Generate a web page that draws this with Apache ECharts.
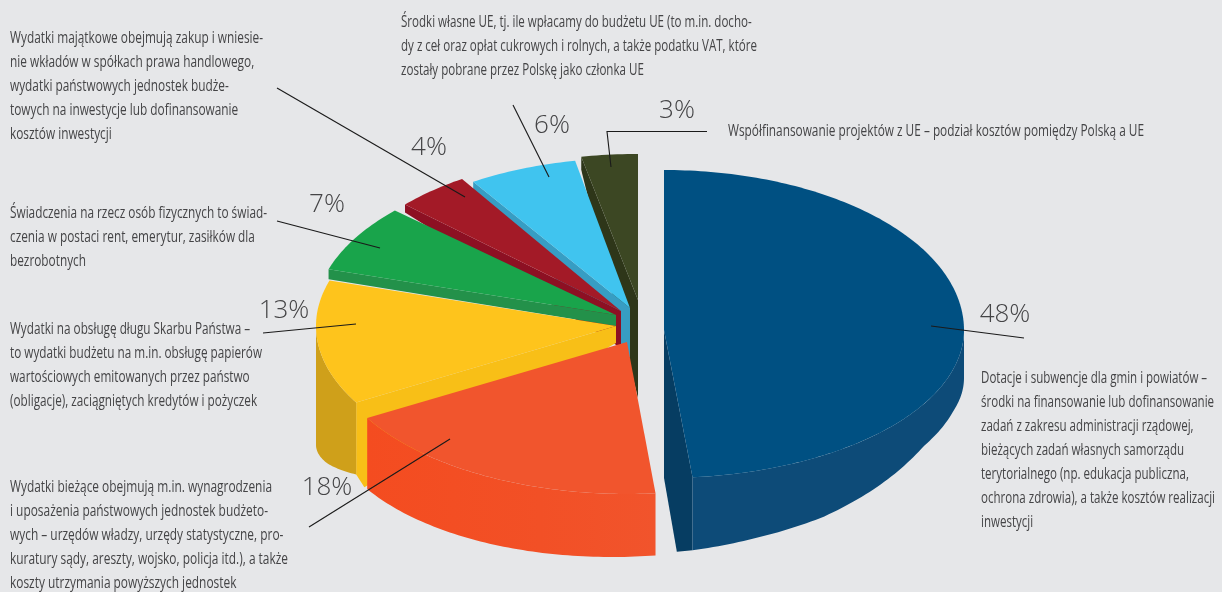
<!DOCTYPE html>
<html><head><meta charset="utf-8">
<style>html,body{margin:0;padding:0;background:#e6e7e9}#c{width:1222px;height:592px}</style>
<script src="https://cdn.jsdelivr.net/npm/echarts@6/dist/echarts.min.js"></script>
</head><body><div id="c"></div>
<script>
// ---- data ----
const categories = ['Dotacje i subwencje','Wydatki bieżące','Obsługa długu','Świadczenia','Wydatki majątkowe','Środki własne UE','Współfinansowanie'];
const values = [48,18,13,7,4,6,3];
const descriptions = [
 'Dotacje i subwencje dla gmin i powiatów –\nśrodki na finansowanie lub dofinansowanie\nzadań z zakresu administracji rządowej,\nbieżących zadań własnych samorządu\nterytorialnego (np. edukacja publiczna,\nochrona zdrowia), a także kosztów realizacji\ninwestycji',
 'Wydatki bieżące obejmują m.in. wynagrodzenia\ni uposażenia państwowych jednostek budżeto-\nwych – urzędów władzy, urzędy statystyczne, pro-\nkuratury sądy, areszty, wojsko, policja itd.), a także\nkoszty utrzymania powyższych jednostek',
 'Wydatki na obsługę długu Skarbu Państwa –\nto wydatki budżetu na m.in. obsługę papierów\nwartościowych emitowanych przez państwo\n(obligacje), zaciągniętych kredytów i pożyczek',
 'Świadczenia na rzecz osób fizycznych to świad-\nczenia w postaci rent, emerytur, zasiłków dla\nbezrobotnych',
 'Wydatki majątkowe obejmują zakup i wniesie-\nnie wkładów w spółkach prawa handlowego,\nwydatki państwowych jednostek budże-\ntowych na inwestycje lub dofinansowanie\nkosztów inwestycji',
 'Środki własne UE, tj. ile wpłacamy do budżetu UE (to m.in. docho-\ndy z ceł oraz opłat cukrowych i rolnych, a także podatku VAT, które\nzostały pobrane przez Polskę jako członka UE',
 'Współfinansowanie projektów z UE – podział kosztów pomiędzy Polską a UE'
];
// ---- look and layout ----
const BG='#e6e7e9', TXT='#444446';
const FONT='17px "Open Sans",sans-serif';
const faceCol=['#005082','#f1552d','#fec41c','#19a44b','#a31a27','#40c4ef','#3c4723'];
const wallCol=['#0d4b78',{type:'linear',x:0,y:0,x2:1,y2:0,colorStops:[{offset:0,color:'#f44c20'},{offset:0.6,color:'#f25026'},{offset:1,color:'#f1542c'}]},'#cfa01a',null,null,null,null];
const cutCol =['#063d62',null,'#f8bf17','#23914a','#8d1023','#379dc3','#2e3619'];
const apexX=[664,627,616,616,621,630,638], apexY=[330,342,326,315,311,308,300];
const rxs=[300,300,300,301,294,290,300];
const ryBack=[160,152,153,154,157,150,146], ryFront=[148,152,153,153,156,150,146];
const rank=[5,6,4,3,2,1,0];
const wallKnots=[
 [[90,48],[105,42],[120,42],[135,53],[148,61.5],[162,67],[174.5,73],[178,74]],
 [[174,62],[240,71]],
 [[236,80],[240,72],[255,97],[270,119]],null,null,null,null];
// cut face: which edge, depth at rim, depth at apex, extra sweep on the bottom rim
const cuts=[{end:1,apex:148,extra:3},null,{end:0,apex:17,extra:-3},{end:0,rim:10,apex:11},{end:0,rim:8,apex:37},{end:0,rim:10,apex:50},{end:0,rim:13,apex:98}];
const total=values.reduce((a,b)=>a+b,0);
const starts=[];values.reduce((a,v,i)=>{starts[i]=a;return a+v;},0);
const ang=v=>v/total*360;
const pt=(i,deg,dy)=>{const r=deg*Math.PI/180,c=Math.cos(r);
 return [apexX[i]+rxs[i]*Math.sin(r),apexY[i]-(c>=0?ryBack[i]:ryFront[i])*c+(dy||0)];};
const depth=(i,deg)=>{const k=wallKnots[i];if(!k)return 0;
 if(deg<=k[0][0])return k[0][1];
 for(let j=1;j<k.length;j++)if(deg<=k[j][0]){const t=(deg-k[j-1][0])/(k[j][0]-k[j-1][0]);return k[j-1][1]+t*(k[j][1]-k[j-1][1]);}
 return k[k.length-1][1];};
function arc(i,a,b,withDepth){const n=Math.max(2,Math.ceil(Math.abs(b-a)));const o=[];
 for(let j=0;j<=n;j++){const d=a+(b-a)*j/n;o.push(pt(i,d,withDepth?depth(i,d):0));}return o;}
function renderSlice(params,api){
 const i=api.value(0);const a0=ang(starts[i]),a1=ang(starts[i]+values[i]);
 const z=rank[i]*3, children=[];
 const C=[apexX[i],apexY[i]];
 const cut=cuts[i];
 if(cut){const e=cut.end?a1:a0;let pts=[C,pt(i,e)];
  if(cut.rim!=null)pts.push(pt(i,e,cut.rim));
  else{pts.push(pt(i,e,depth(i,e)));pts.push(pt(i,e+cut.extra,depth(i,e+cut.extra)));}
  pts.push([C[0],C[1]+cut.apex]);
  children.push({type:'polygon',z2:z,shape:{points:pts},style:{fill:cutCol[i]}});}
 if(wallKnots[i]){const lo=Math.max(a0,90),hi=Math.min(a1,270);
  const top=arc(i,lo,hi,false),bot=arc(i,hi,lo,true);
  children.push({type:'polygon',z2:z+1,shape:{points:top.concat(bot)},style:{fill:wallCol[i]}});}
 children.push({type:'polygon',z2:z+2,shape:{points:[C].concat(arc(i,a0,a1,false))},style:{fill:faceCol[i]}});
 return {type:'group',children};
}
// ---- annotations ----
const textX=[981,10,10,10,10,401,728], textY=[378,487,329,213,38,22,131];
const textW=[234,278,252,257,253,356,416];
const labelX=[1005,327,284,327,429,552,677], labelY=[315,488,311,205,148,126,111];
const leaders=[
 [[931,326],[1024,338]],[[309,527],[450,439]],[[263,333],[356,324]],[[277,221],[380,248]],
 [[277,88],[465,197]],[[513,105],[549,177]],[[707,131.5],[607,131.5],[611,167]]];
const meas=document.createElement('canvas').getContext('2d');meas.font=FONT;
const graphics=[];
descriptions.forEach((t,i)=>{
 const w=Math.max.apply(null,t.split('\n').map(l=>meas.measureText(l).width));
 graphics.push({type:'text',z:10,x:textX[i],y:textY[i]-12,scaleX:textW[i]/w,style:{text:t,fill:TXT,font:FONT,lineHeight:24,verticalAlign:'top',textVerticalAlign:'top'}});
 graphics.push({type:'text',z:10,x:labelX[i],y:labelY[i],style:{text:values[i]+'%',fill:TXT,font:'300 26px "Open Sans",sans-serif',align:'center',verticalAlign:'middle',textAlign:'center',textVerticalAlign:'middle'}});
 graphics.push({type:'polyline',z:11,shape:{points:leaders[i]},style:{stroke:'#1a1a1a',lineWidth:1.1,fill:null}});
});
const chart=echarts.init(document.getElementById('c'),null,{renderer:'canvas'});
chart.setOption({
 animation:false,backgroundColor:BG,
 graphic:graphics,
 series:[{type:'custom',coordinateSystem:'none',renderItem:renderSlice,
  data:values.map((v,i)=>({name:categories[i],value:[i,v]})),silent:true}]
});
</script></body></html>
